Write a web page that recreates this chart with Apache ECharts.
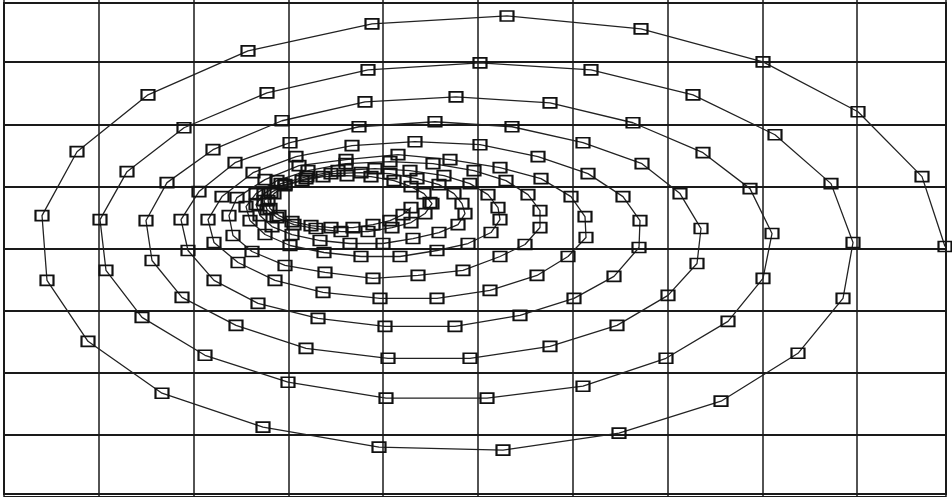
<!DOCTYPE html>
<html>
<head>
<meta charset="utf-8">
<script src="https://cdn.jsdelivr.net/npm/echarts@6/dist/echarts.min.js"></script>
<style>
  html, body { margin: 0; padding: 0; background: #fff; }
  #chart { width: 952px; height: 497px; }
</style>
</head>
<body>
<div id="chart"></div>
<script>
// Spiral trajectory, one array pair per revolution (21 samples each), outermost first.
const lap1X = [941, 918, 854, 759, 637, 503, 368, 244, 144, 73, 38, 43, 84, 158, 259, 375, 499, 615, 717, 794, 839];
const lap1Y = [251, 321, 386, 436, 469, 482, 474, 447, 403, 346, 282, 217, 156, 104, 70, 50, 47, 64, 96, 144, 199];
const lap2X = [849, 827, 771, 689, 587, 476, 364, 263, 180, 123, 96, 102, 138, 201, 284, 382, 483, 579, 662, 724, 759];
const lap2Y = [255, 314, 363, 403, 428, 435, 428, 405, 370, 326, 278, 227, 180, 142, 115, 99, 99, 111, 139, 176, 219];
const lap3X = [768, 746, 699, 629, 546, 452, 361, 278, 209, 163, 142, 148, 178, 232, 302, 384, 466, 546, 613, 664, 693];
const lap3Y = [264, 309, 345, 375, 395, 401, 396, 377, 348, 315, 277, 237, 200, 172, 149, 139, 139, 151, 172, 202, 234];
const lap4X = [697, 676, 638, 579, 508, 431, 355, 286, 231, 195, 177, 184, 210, 254, 314, 381, 451, 516, 570, 610, 635];
const lap4Y = [269, 304, 334, 355, 371, 376, 371, 355, 335, 306, 278, 247, 217, 194, 179, 171, 171, 182, 199, 221, 250];
const lap5X = [636, 619, 584, 534, 476, 411, 348, 292, 249, 218, 204, 210, 234, 271, 319, 376, 433, 486, 533, 564, 582];
const lap5Y = [277, 301, 324, 341, 353, 356, 352, 341, 325, 301, 278, 255, 235, 217, 205, 199, 199, 207, 222, 241, 260];
const lap6X = [581, 567, 537, 496, 446, 394, 342, 295, 261, 233, 225, 229, 248, 281, 321, 369, 414, 459, 496, 521, 536];
const lap6Y = [281, 301, 319, 330, 338, 343, 338, 332, 318, 300, 282, 262, 246, 232, 225, 219, 222, 227, 241, 253, 270];
const lap7X = [536, 524, 502, 470, 429, 386, 342, 304, 273, 252, 242, 246, 261, 286, 320, 357, 396, 433, 464, 487, 496];
const lap7Y = [287, 303, 317, 327, 334, 336, 334, 327, 317, 304, 291, 277, 263, 252, 245, 241, 241, 247, 254, 265, 278];
const lap8X = [494, 484, 466, 440, 406, 371, 334, 303, 277, 260, 252, 256, 268, 288, 316, 346, 379, 409, 435, 454, 461];
const lap8Y = [290, 303, 314, 322, 327, 329, 327, 321, 314, 304, 293, 282, 271, 263, 257, 254, 254, 259, 265, 273, 284];
const lap9X = [458, 450, 435, 413, 386, 357, 327, 302, 281, 267, 260, 263, 273, 290, 312, 337, 364, 388, 407, 421, 428];
const lap9Y = [294, 304, 313, 319, 324, 325, 324, 319, 313, 305, 297, 288, 280, 273, 269, 266, 266, 270, 275, 284, 294];
const lap10X = [426, 420, 407, 390, 367, 343, 319, 298, 281, 270, 264, 266, 275, 288, 307, 327, 349, 369, 386, 399, 407];
const lap10Y = [295, 304, 311, 317, 321, 322, 321, 317, 312, 304, 297, 289, 282, 276, 272, 270, 270, 273, 277, 283, 290];

const lapsX = [lap1X, lap2X, lap3X, lap4X, lap5X, lap6X, lap7X, lap8X, lap9X, lap10X];
const lapsY = [lap1Y, lap2Y, lap3Y, lap4Y, lap5Y, lap6Y, lap7Y, lap8Y, lap9Y, lap10Y];

// Axis extents and grid spacing (10 columns x 8 rows, last column trimmed)
const xMax = 942, xStep = 94.8;
const yMax = 498, yStep = 62.25;

const points = [];
lapsX.forEach((xs, i) => xs.forEach((x, j) => points.push([x, lapsY[i][j]])));

const ink = '#1a1a1a';

const chart = echarts.init(document.getElementById('chart'), null, { renderer: 'canvas' });
chart.setOption({
  animation: false,
  backgroundColor: '#ffffff',
  grid: [
    { left: 4, top: 0, width: 942, height: 498, show: false }
  ],
  xAxis: [
    {
      type: 'value', min: 0, max: xMax, interval: xStep,
      axisLine: { show: false }, axisTick: { show: false }, axisLabel: { show: false },
      splitLine: { show: true, lineStyle: { color: ink, width: 1.5 } }
    }
  ],
  yAxis: [
    {
      type: 'value', min: 0, max: yMax, interval: yStep,
      axisLine: { show: false }, axisTick: { show: false }, axisLabel: { show: false },
      splitLine: { show: true, showMaxLine: false, lineStyle: { color: ink, width: 2 } }
    }
  ],
  // Outer plot frame
  graphic: {
    elements: [
      {
        type: 'rect', z: 100, silent: true, x: 4, y: 3,
        shape: { x: 0, y: 0, width: 942, height: 491 },
        style: { fill: null, stroke: ink, lineWidth: 2 }
      }
    ]
  },
  series: [
    {
      type: 'line',
      data: points,
      smooth: false,
      showSymbol: true,
      showAllSymbol: true,
      symbol: 'rect',
      symbolSize: [13, 10],
      lineStyle: { color: '#222', width: 1.3 },
      itemStyle: { color: 'rgba(255,255,255,0)', borderColor: '#111', borderWidth: 1.9 },
      emphasis: { disabled: true },
      z: 3
    }
  ]
});
</script>
</body>
</html>
